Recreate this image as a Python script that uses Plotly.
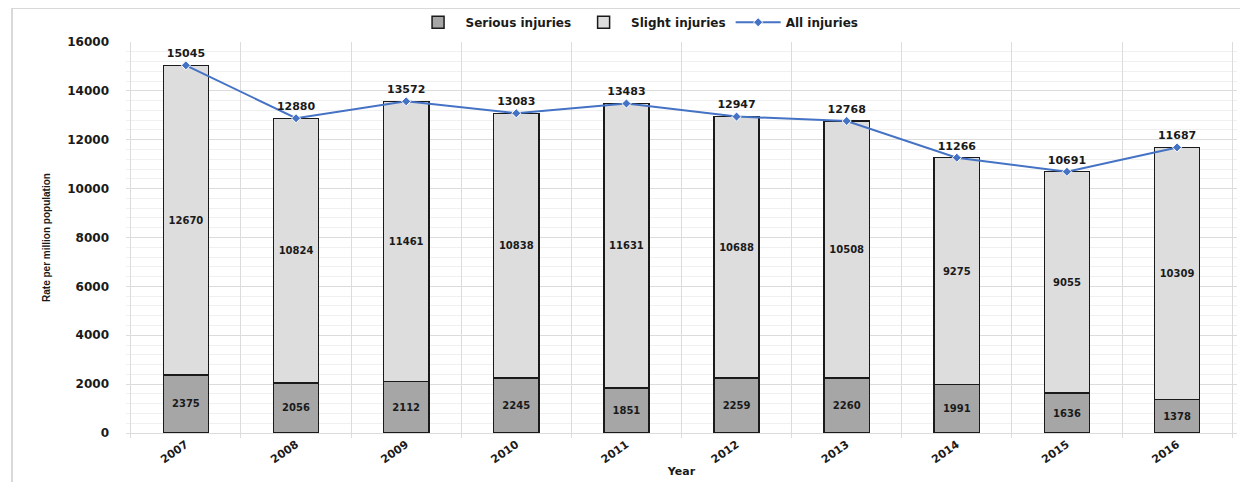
import plotly.graph_objects as go

years = ["2007", "2008", "2009", "2010", "2011", "2012", "2013", "2014", "2015", "2016"]
serious = [2375, 2056, 2112, 2245, 1851, 2259, 2260, 1991, 1636, 1378]
slight = [12670, 10824, 11461, 10838, 11631, 10688, 10508, 9275, 9055, 10309]
all_injuries = [15045, 12880, 13572, 13083, 13483, 12947, 12768, 11266, 10691, 11687]

FONT = "DejaVu Sans"

fig = go.Figure()
fig.add_trace(go.Bar(
    x=years, y=serious, name="Serious injuries",
    marker=dict(color="#A6A6A6", line=dict(color="#1a1a1a", width=1.5)),
    text=[str(v) for v in serious], textposition="inside", insidetextanchor="middle",
    textangle=0, textfont=dict(family=FONT, size=10, color="#1a1a1a", weight="bold"),
    hoverinfo="skip",
))
fig.add_trace(go.Bar(
    x=years, y=slight, name="Slight injuries",
    marker=dict(color="#DDDDDD", line=dict(color="#1a1a1a", width=1.5)),
    text=[str(v) for v in slight], textposition="inside", insidetextanchor="middle",
    textangle=0, textfont=dict(family=FONT, size=10, color="#1a1a1a", weight="bold"),
    hoverinfo="skip",
))
fig.add_trace(go.Scatter(
    x=years, y=all_injuries, name="All injuries", mode="lines+markers+text",
    line=dict(color="#4472C4", width=2),
    marker=dict(symbol="diamond", size=7, color="#4472C4", line=dict(color="white", width=1)),
    text=[str(v) for v in all_injuries], textposition="top center",
    textfont=dict(family=FONT, size=11, color="#1a1a1a", weight="bold"),
    cliponaxis=False, hoverinfo="skip",
))

fig.update_layout(
    width=1240, height=474,
    margin=dict(l=118, r=11, t=34, b=49, autoexpand=False),
    barmode="stack", bargap=0.59,
    plot_bgcolor="white", paper_bgcolor="white",
    font=dict(family=FONT, size=11, color="#1a1a1a"),
    legend=dict(orientation="h", x=0.46, xanchor="center", yref="container", y=0.970, yanchor="middle",
                traceorder="normal",
                font=dict(family=FONT, size=12, weight="bold"),
                itemwidth=45, bgcolor="rgba(0,0,0,0)"),
    xaxis=dict(
        automargin=False,
        tickson="boundaries", showgrid=True, gridcolor="#DCDCDC", gridwidth=1,
        ticks="outside", ticklen=4, tickcolor="#DCDCDC",
        showline=True, linecolor="#DCDCDC", linewidth=1,
        tickangle=-35, tickfont=dict(family=FONT, size=11, weight="bold"),
        title=dict(text="Year", font=dict(family=FONT, size=11, weight="bold"), standoff=2),
    ),
    yaxis=dict(
        automargin=False,
        range=[0, 16000], dtick=2000, tickformat="d", showgrid=True, gridcolor="#DCDCDC", gridwidth=1,
        minor=dict(dtick=400, showgrid=True, gridcolor="#F0F0F0", gridwidth=1),
        zeroline=False, showline=False, ticks="", ticklabelstandoff=16,
        tickfont=dict(family=FONT, size=12, weight="bold"),
        title=dict(text="Rate per million population",
                   font=dict(family="Liberation Sans Narrow, Liberation Sans", size=10, weight="bold"),
                   standoff=14),
    ),
    shapes=[
        dict(type="line", xref="paper", yref="paper", x0=-0.1026, x1=1.02, y0=1.087, y1=1.087,
             line=dict(color="#D9D9D9", width=2)),
        dict(type="line", xref="paper", yref="paper", x0=-0.1026, x1=-0.1026, y0=1.087, y1=-0.2,
             line=dict(color="#D9D9D9", width=2)),
    ],
)

fig.write_html("out.html")
